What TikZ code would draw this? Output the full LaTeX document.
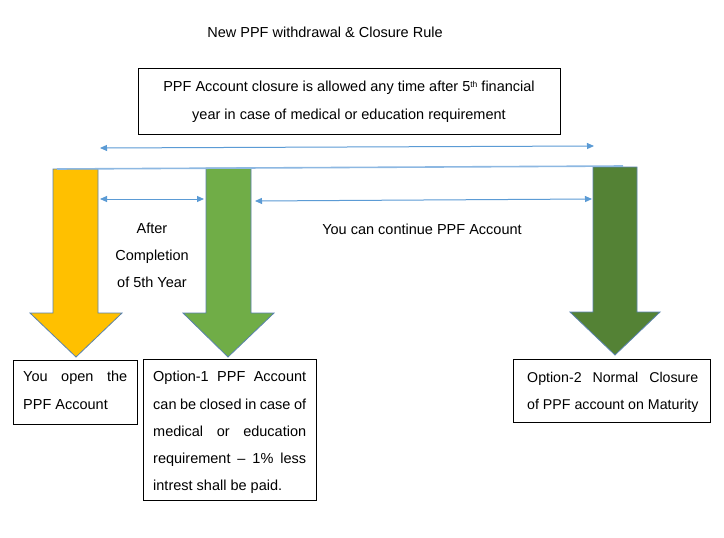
\documentclass[tikz,border=0pt]{standalone}
\usepackage{fontspec}
\setmainfont{Liberation Sans}
\usetikzlibrary{arrows.meta}
\definecolor{cyellow}{HTML}{FFC000}
\definecolor{cgreen}{HTML}{70AD47}
\definecolor{cdgreen}{HTML}{548235}
\definecolor{coutline}{HTML}{5A82AE}
\definecolor{cblue}{HTML}{5B9BD5}
\definecolor{clight}{HTML}{8DB8E2}
\newcommand{\supth}{\raisebox{0.55ex}{\fontsize{8.5}{9}\selectfont th}}
\tikzset{
  bigarrow/.style={draw=coutline, line width=0.8pt},
  dim/.style={draw=cblue, line width=1pt, {Triangle[length=7pt,width=6pt]}-{Triangle[length=7pt,width=6pt]}},
  txt/.style={font=\fontsize{14.5}{27.3}\selectfont, inner sep=0pt, anchor=north west, align=left},
  frame/.style={draw=black, line width=0.8pt, inner sep=0pt},
}
\begin{document}
\begin{tikzpicture}[x=1pt,y=-1pt]
\useasboundingbox (0,0) rectangle (724,538);
\fill[white] (0,0) rectangle (724,538);
% title
\node[font=\fontsize{14.5}{16}\selectfont] (title) at (325,32) {New PPF withdrawal \& Closure Rule};
% top box
\draw[frame] (138,68) rectangle (560,134);
\node[font=\fontsize{14.5}{28}\selectfont, align=center] (topbox) at (349,102) {PPF Account closure is allowed any time after 5\supth{} financial\\year in case of medical or education requirement};
% big arrows
\draw[bigarrow, fill=cyellow] (53,169) -- (98,169) -- (98,313) -- (122,313) -- (76,357) -- (30,313) -- (53,313) -- cycle;
\draw[bigarrow, fill=cgreen] (206,168) -- (251,168) -- (251,313) -- (274,313) -- (228,357) -- (183,313) -- (206,313) -- cycle;
\draw[bigarrow, fill=cdgreen] (593,167) -- (637,167) -- (637,312) -- (660,312) -- (615,355) -- (570,312) -- (593,312) -- cycle;
\coordinate (a1) at (76,169);
\coordinate (a2) at (228,168);
\coordinate (a3) at (615,167);
% top light line
\draw[clight, line width=1.6pt] (57,169) -- (623,166);
% dimension arrows
\coordinate (d1l) at (100,148);
\coordinate (d1r) at (594,146);
\draw[dim] (d1l) -- (d1r);
\coordinate (d2l) at (100,199);
\coordinate (d2r) at (204,199);
\draw[dim] (d2l) -- (d2r);
\coordinate (d3l) at (255,201);
\coordinate (d3r) at (592,199);
\draw[dim] (d3l) -- (d3r);
% labels
\node[font=\fontsize{14.5}{27}\selectfont, align=center] (after) at (152,255) {After\\Completion\\of 5th Year};
\node[font=\fontsize{14.5}{16}\selectfont] (cont) at (422,229) {You can continue PPF Account};
% bottom boxes
\draw[frame] (13,360) rectangle (137,424);
\node[txt] (b1) at (23,371) {\makebox[104pt][s]{You open the}\\PPF Account};
\draw[frame] (143,359) rectangle (316,500);
\node[txt] (b2) at (153,371) {\makebox[153pt][s]{Option-1 PPF Account}\\\makebox[153pt][s]{can be closed in case of}\\\makebox[153pt][s]{medical or education}\\\makebox[153pt][s]{requirement -- 1\% less}\\intrest shall be paid.};
\draw[frame] (513,359) rectangle (710,422);
\node[txt, font=\fontsize{14.2}{27.3}\selectfont] (b3) at (527,372) {\makebox[171pt][s]{Option-2 Normal Closure}\\of PPF account on Maturity};
\end{tikzpicture}
\end{document}
